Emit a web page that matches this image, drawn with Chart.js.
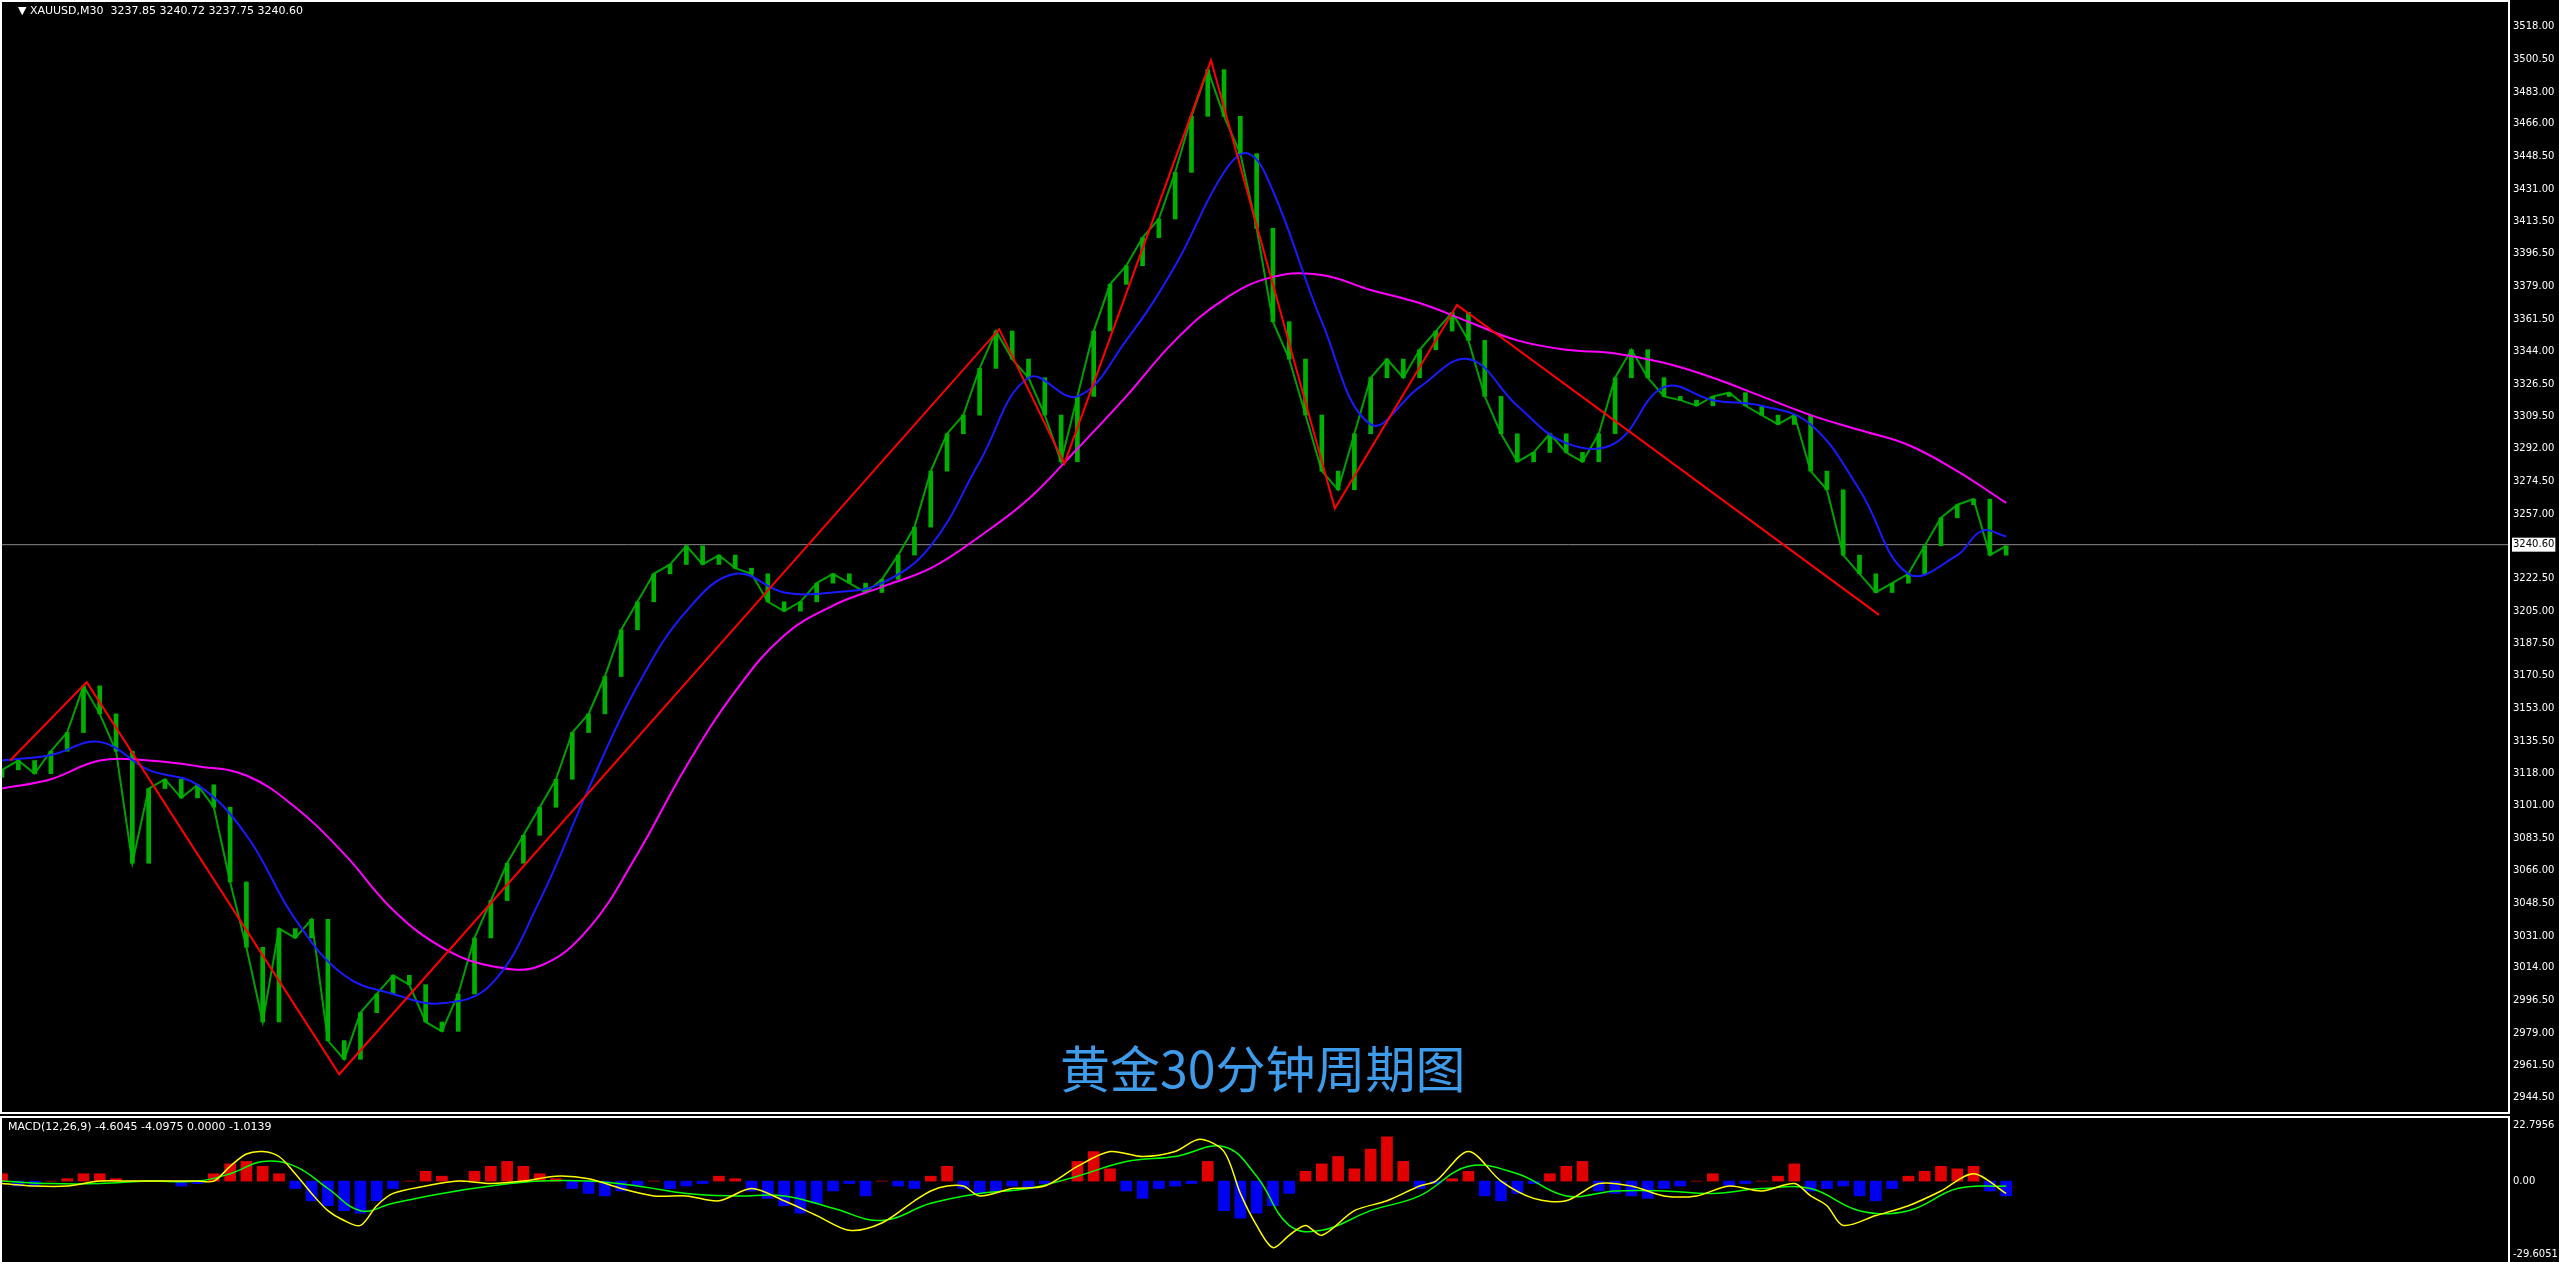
<!DOCTYPE html>
<html lang="zh">
<head>
<meta charset="UTF-8">
<title>XAUUSD M30</title>
<script src="https://cdn.jsdelivr.net/npm/chart.js"></script>
<style>
  body { margin: 0; background: #000; width: 2559px; height: 1262px; overflow: hidden; font-family: Tahoma, "DejaVu Sans", sans-serif; }
  .pane { position: absolute; left: 0; width: 2559px; }
  .frame { position: absolute; border: 2px solid #fff; box-sizing: border-box; pointer-events: none; }
  .lbl { position: absolute; color: #fff; font-size: 11px; white-space: nowrap; }
</style>
</head>
<body>
<div class="pane" style="top:0;height:1114px"><canvas id="price"></canvas></div>
<div class="pane" style="top:1117px;height:145px"><canvas id="macd"></canvas></div>
<div class="frame" style="left:0;top:0;width:2510px;height:1114px"></div>
<div class="frame" style="left:0;top:1116px;width:2510px;height:150px"></div>
<div class="lbl" style="left:18px;top:4px">&#9660; XAUUSD,M30&nbsp; 3237.85 3240.72 3237.75 3240.60</div>
<div class="lbl" style="left:8px;top:1120px">MACD(12,26,9) -4.6045 -4.0975 0.0000 -1.0139</div>
<div style="position:absolute;left:1060px;top:1030px;color:#3d9be9;font-size:50px;font-family:'Noto Sans CJK SC',sans-serif">黄金30分钟周期图</div>

<script>
// closes, one every 10 bars
var closes = [3120,3125,3118,3130,3140,3165,3150,3130,3070,3110,3115,3105,3112,3100,3060,3025,2985,3035,3030,3040,
  2975,2965,2990,3000,3010,3005,2985,2980,3000,3030,3050,3070,3085,3100,3115,3140,3150,3170,3195,3210,
  3225,3230,3240,3230,3235,3228,3225,3210,3205,3210,3220,3225,3220,3215,3222,3235,3250,3280,3300,3310,
  3335,3355,3340,3330,3310,3285,3320,3355,3380,3390,3405,3415,3440,3470,3495,3470,3450,3410,3360,3340,
  3310,3280,3270,3300,3330,3340,3330,3345,3355,3365,3350,3320,3300,3285,3290,3300,3290,3285,3300,3330,
  3345,3330,3320,3318,3315,3320,3322,3315,3310,3305,3310,3280,3270,3235,3225,3215,3220,3225,3240,3255,
  3262,3265,3235,3240];
var fastMA = [[0,3125],[3,3128],[6,3135],[9,3120],[12,3112],[15,3085],[18,3040],[21,3010],[24,3000],[27,2995],
  [30,3005],[33,3050],[36,3110],[39,3165],[42,3205],[45,3225],[48,3215],[51,3215],[54,3220],[57,3240],
  [60,3285],[63,3330],[66,3320],[69,3350],[72,3390],[75,3440],[76.5,3450],[78,3430],[81,3360],[84,3305],
  [87,3325],[90,3340],[93,3315],[96,3295],[99,3295],[102,3325],[105,3318],[108,3315],[111,3305],[114,3270],
  [117,3225],[120,3235],[121.5,3248],[123,3245]];
var slowMA = [[0,3110],[3,3115],[6,3125],[9,3125],[12,3122],[15,3117],[18,3100],[21,3075],[24,3045],[27,3025],
  [30,3015],[33,3015],[36,3035],[39,3075],[42,3122],[45,3162],[48,3192],[51,3208],[54,3218],[57,3228],
  [60,3245],[63,3265],[66,3292],[69,3320],[72,3350],[75,3372],[78,3384],[81,3385],[84,3377],[87,3370],
  [90,3360],[93,3350],[96,3345],[99,3343],[102,3338],[105,3330],[108,3320],[111,3310],[114,3302],[117,3294],
  [120,3280],[123,3263]];
var zigzag = [[0.5,3125],[5.2,3167],[20.7,2957],[61.2,3356],[65.2,3284],[74.2,3500],[81.8,3260],[89.3,3369],[115.2,3203]];
var priceTicks = [3518,3500.5,3483,3466,3448.5,3431,3413.5,3396.5,3379,3361.5,3344,3326.5,3309.5,3292,3274.5,3257,
  3222.5,3205,3187.5,3170.5,3153,3135.5,3118,3101,3083.5,3066,3048.5,3031,3014,2996.5,2979,2961.5,2944.5];
var lastPrice = 3240.6;

var hist = [3,-2,-2,0,1,3,3,1,0,0,0,-2,-1,3,7,8,6,3,-3,-8,-10,-12,-13,-8,-3,0,4,2,0,4,
  6,8,6,3,1,-3,-5,-6,-4,-2,0,-3,-2,-1,2,1,-4,-7,-10,-13,-9,-4,-1,-6,0,-2,-3,2,6,-3,
  -5,-4,-2,-3,-1,0,8,12,5,-4,-7,-3,-2,-1,8,-12,-15,-13,-10,-5,4,7,10,5,13,18,8,-3,-1,1,
  4,-6,-8,-5,-1,3,6,8,-4,-5,-6,-7,-3,-2,0,3,-2,-1,0,2,7,-4,-3,-2,-6,-8,-3,2,4,6,
  5,6,-4,-6];
var macdLine = [[0,-1],[2,-2],[4,-2],[6,0],[8,0],[10,0],[12,0],[13,0],[14,6],[15,11],[16,12],[17,10],[18,3],[19,-5],
  [20,-12],[21,-16],[22,-18],[23,-10],[24,-5],[26,-2],[28,0],[30,-1],[32,0],[34,2],[36,1],[38,-3],[40,-6],[42,-6],
  [44,-8],[46,-3],[48,-8],[50,-14],[52,-20],[54,-17],[56,-8],[57,-4],[58,-2],[59,-2],[60,-6],[62,-3],[64,-2],
  [66,6],[68,12],[70,10],[72,12],[73.5,17],[75,12],[76,-5],[77,-18],[78,-27],[79,-22],[80,-18],[81,-22],[83,-12],
  [85,-8],[87,-2],[88,0],[90,12],[92,0],[94,-7],[96,-8],[98,-1],[100,-2],[102,-6],[104,-6],[106,-2],[108,-4],
  [110,-1],[111,-6],[112,-10],[113,-18],[115,-14],[117,-10],[119,-4],[121,3],[123,-5]];
var signalLine = [[0,0],[3,-1],[6,-1],[9,0],[12,0],[14,3],[16,8],[18,6],[20,-3],[22,-12],[24,-9],[27,-5],[30,-2],
  [33,0],[36,0],[39,-2],[42,-5],[45,-6],[48,-6],[51,-11],[54,-16],[57,-9],[60,-5],[63,-3],[66,2],[69,8],[72,10],
  [75,14],[77,2],[79,-18],[81,-20],[84,-12],[87,-6],[90,6],[93,3],[96,-6],[99,-4],[102,-4],[105,-5],[108,-3],
  [111,-3],[114,-12],[117,-12],[120,-3],[123,-2]];

var X_MAX = 153.8;
var candleData = closes.map(function (c, i) { return { x: i, y: [i == 0 ? c - 4 : closes[i - 1], c] }; });
function pts(a) { return a.map(function (p) { return { x: p[0], y: p[1] }; }); }

var tickFont = { family: 'Tahoma, "DejaVu Sans", sans-serif', size: 10 };

new Chart(document.getElementById('price'), {
  type: 'bar',
  data: {
    datasets: [
      { type: 'line', data: pts(zigzag), borderColor: '#ff0000', borderWidth: 2, pointRadius: 0, tension: 0, order: 1 },
      { type: 'line', data: pts(fastMA), borderColor: '#1a1aff', borderWidth: 2, pointRadius: 0, tension: 0.4, order: 2 },
      { type: 'line', data: pts(slowMA), borderColor: '#ff00ff', borderWidth: 2, pointRadius: 0, tension: 0.4, order: 3 },
      { type: 'line', data: closes.map(function (c, i) { return { x: i, y: c }; }), borderColor: '#00a000', borderWidth: 2, pointRadius: 0, tension: 0, order: 5 },
      { data: candleData, backgroundColor: '#00b000', barThickness: 4, order: 4 },
      { type: 'line', data: [{ x: 0, y: lastPrice }, { x: X_MAX, y: lastPrice }], borderColor: '#8a8a8a', borderWidth: 1, pointRadius: 0, order: 6 }
    ]
  },
  options: {
    animation: false, responsive: true, maintainAspectRatio: false,
    layout: { padding: { left: 2, top: 2, right: 0, bottom: 0 } },
    plugins: { legend: { display: false }, tooltip: { enabled: false } },
    scales: {
      x: { type: 'linear', min: 0, max: X_MAX, display: false, offset: false },
      y: {
        position: 'right', min: 2940, max: 3528, afterFit: function (s) { s.width = 51; },
        afterBuildTicks: function (s) { s.ticks = priceTicks.concat([lastPrice]).map(function (v) { return { value: v }; }); },
        grid: { display: false, drawTicks: true, tickLength: 3, tickColor: '#fff' },
        border: { display: false },
        ticks: {
          color: function (c) { return c.tick && c.tick.value == lastPrice ? '#000' : '#fff'; },
          font: tickFont, padding: 2, autoSkip: false,
          callback: function (v) { return v.toFixed(2); },
          backdropColor: function (c) { return c.tick && c.tick.value == lastPrice ? '#fff' : 'rgba(0,0,0,0)'; },
          showLabelBackdrop: true, backdropPadding: 1
        }
      }
    }
  }
});

new Chart(document.getElementById('macd'), {
  type: 'bar',
  data: {
    datasets: [
      { type: 'line', data: pts(macdLine), borderColor: '#ffff00', borderWidth: 1.5, pointRadius: 0, tension: 0.3, order: 1 },
      { type: 'line', data: pts(signalLine), borderColor: '#00ff00', borderWidth: 1.5, pointRadius: 0, tension: 0.4, order: 2 },
      {
        data: hist.map(function (h, i) { return { x: i, y: h }; }),
        backgroundColor: hist.map(function (h) { return h >= 0 ? '#e00000' : '#0000f0'; }),
        barThickness: 11, order: 3
      }
    ]
  },
  options: {
    animation: false, responsive: true, maintainAspectRatio: false,
    layout: { padding: { left: 2, top: 2, right: 0, bottom: 0 } },
    plugins: { legend: { display: false }, tooltip: { enabled: false } },
    scales: {
      x: { type: 'linear', min: 0, max: X_MAX, display: false, offset: false },
      y: {
        position: 'right', min: -29.6051, max: 22.7956, afterFit: function (s) { s.width = 51; },
        afterBuildTicks: function (s) { s.ticks = [{ value: 22.7956 }, { value: 0 }, { value: -29.6051 }]; },
        grid: { display: false, tickLength: 3, tickColor: '#fff' },
        border: { display: false },
        ticks: {
          color: '#fff', font: tickFont, padding: 2, autoSkip: false,
          callback: function (v) { return v == 0 ? '0.00' : v.toFixed(4); }
        }
      }
    }
  }
});
</script>
</body>
</html>
